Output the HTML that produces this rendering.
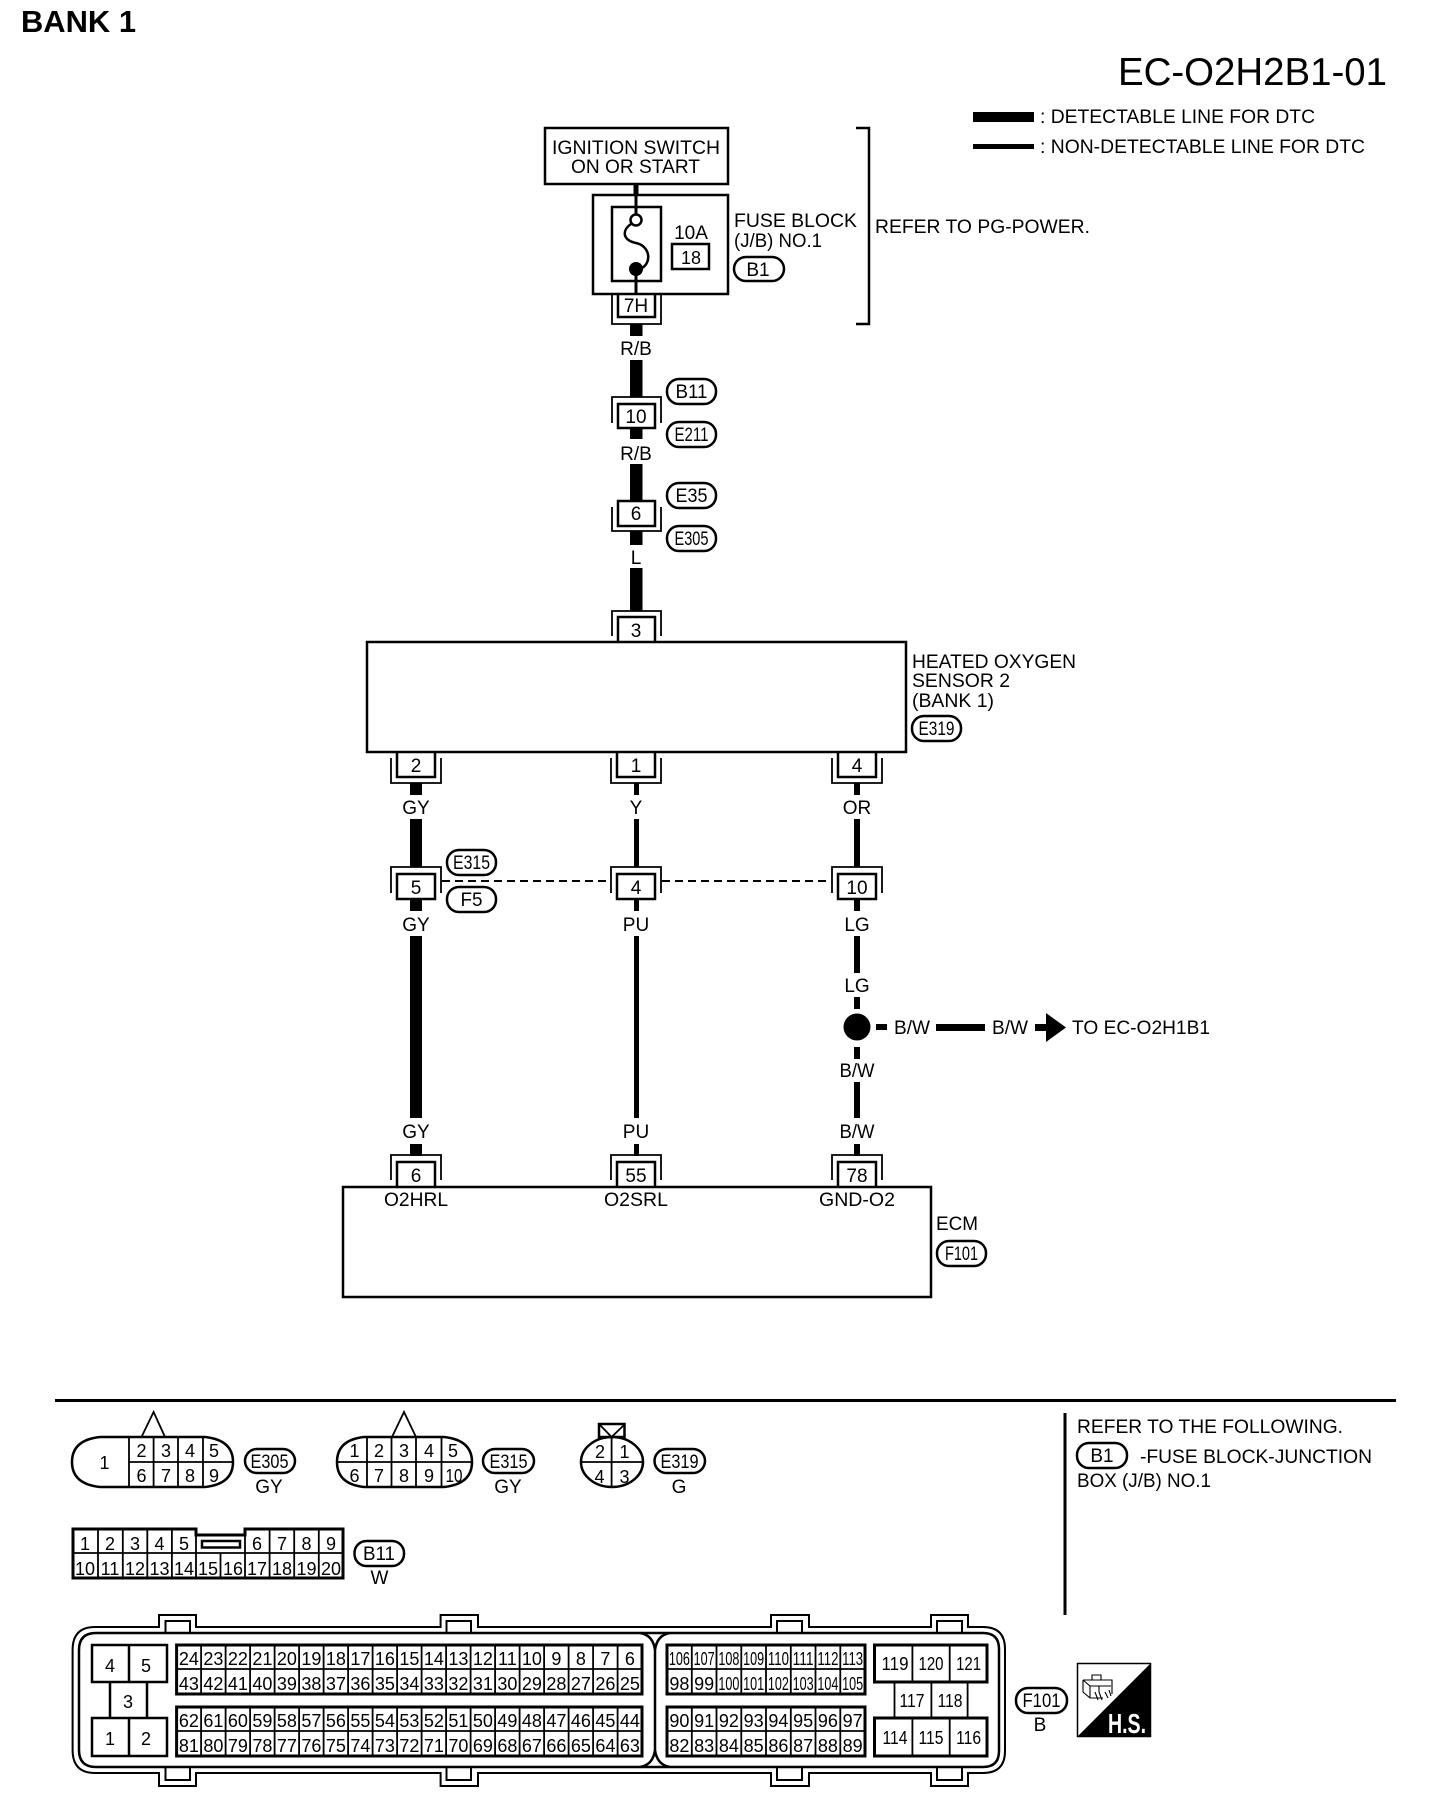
<!DOCTYPE html>
<html><head><meta charset="utf-8"><title>EC-O2H2B1-01</title>
<style>
html,body{margin:0;padding:0;background:#fff;width:1440px;height:1810px;overflow:hidden}
svg{display:block}
text{font-family:"Liberation Sans",sans-serif;font-size:19px;fill:#000}
.m{text-anchor:middle}
.n{font-size:18px;text-anchor:middle}
.b{fill:#fff;stroke:#000;stroke-width:2.5}
.o{fill:none;stroke:#000;stroke-width:2.5}
.t{fill:none;stroke:#000;stroke-width:1.8}
.k{fill:#000;stroke:none}
</style></head><body>
<svg width="1440" height="1810" viewBox="0 0 1440 1810" xmlns="http://www.w3.org/2000/svg">
<text x="21" y="32" font-weight="bold" style="font-size:31px" textLength="115" lengthAdjust="spacingAndGlyphs">BANK 1</text>
<text x="1118" y="85" style="font-size:39px" textLength="269" lengthAdjust="spacingAndGlyphs">EC-O2H2B1-01</text>
<rect class="k" x="973" y="112" width="61" height="10"/>
<rect class="k" x="973" y="144" width="61" height="5"/>
<text x="1040" y="123" textLength="275" lengthAdjust="spacingAndGlyphs">: DETECTABLE LINE FOR DTC</text>
<text x="1040" y="153" textLength="325" lengthAdjust="spacingAndGlyphs">: NON-DETECTABLE LINE FOR DTC</text>

<!-- top -->
<rect class="b" x="545" y="128" width="183" height="56"/>
<text x="552" y="154" textLength="168" lengthAdjust="spacingAndGlyphs">IGNITION SWITCH</text>
<text x="571" y="173" textLength="129" lengthAdjust="spacingAndGlyphs">ON OR START</text>
<rect class="k" x="633.5" y="184" width="5" height="11"/>
<rect class="b" x="593" y="195" width="135" height="99"/>
<rect class="b" x="612" y="207" width="49" height="74"/>
<rect class="k" x="634.5" y="195" width="3" height="19"/>
<rect class="k" x="634.5" y="270" width="3" height="24"/>
<path class="o" d="M631,224 C622,230 622,240 636,243 C650,246 652,262 642,268"/>
<circle cx="636" cy="220" r="5.5" fill="#fff" stroke="#000" stroke-width="2.5"/>
<circle class="k" cx="636" cy="269" r="7"/>
<text class="m" x="691" y="239">10A</text>
<rect class="b" x="672" y="244" width="37" height="25"/>
<text class="m" x="691" y="264" style="font-size:18px">18</text>
<text x="734" y="227" textLength="123" lengthAdjust="spacingAndGlyphs">FUSE BLOCK</text>
<text x="734" y="247" textLength="88" lengthAdjust="spacingAndGlyphs">(J/B) NO.1</text>
<rect class="b" x="734" y="257" width="50" height="24" rx="12"/>
<text class="m" x="758" y="276">B1</text>
<path class="o" d="M856,128 H869 V324 H856"/>
<text x="875" y="233" textLength="215" lengthAdjust="spacingAndGlyphs">REFER TO PG-POWER.</text>

<!-- 7H -->
<path class="o" d="M618,294 V317 H655 V294"/>
<path class="t" d="M612,294 V324 H661 V294"/>
<text class="m" x="636" y="312">7H</text>
<rect class="k" x="630" y="324" width="12.5" height="12"/>
<text class="m" x="636" y="355">R/B</text>
<rect class="k" x="630" y="360" width="12.5" height="37"/>
<!-- 10 -->
<path class="t" d="M612,423 V397 H661 V423"/>
<rect class="b" x="618" y="404" width="37" height="24"/>
<text class="m" x="636" y="423">10</text>
<rect class="k" x="630" y="428" width="12.5" height="11"/>
<text class="m" x="636" y="460">R/B</text>
<rect class="k" x="630" y="464" width="12.5" height="37"/>
<!-- 6 -->
<rect class="b" x="618" y="501" width="37" height="25"/>
<path class="t" d="M612,507 V531 H661 V507"/>
<text class="m" x="636" y="520">6</text>
<rect class="k" x="630" y="531" width="12.5" height="14"/>
<text class="m" x="636" y="564">L</text>
<rect class="k" x="630" y="568" width="12.5" height="43"/>
<!-- 3 -->
<path class="t" d="M612,636 V611 H661 V636"/>
<path class="o" d="M618,642 V617 H655 V642"/>
<text class="m" x="636" y="637">3</text>

<rect class="b" x="667" y="379" width="49" height="25" rx="12"/>
<text class="m" x="691.5" y="398" textLength="32" lengthAdjust="spacingAndGlyphs">B11</text>
<rect class="b" x="667" y="422" width="49" height="25" rx="12"/>
<text class="m" x="691.5" y="441" textLength="34" lengthAdjust="spacingAndGlyphs">E211</text>
<rect class="b" x="667" y="483" width="49" height="25" rx="12"/>
<text class="m" x="691.5" y="502" textLength="32" lengthAdjust="spacingAndGlyphs">E35</text>
<rect class="b" x="667" y="526" width="49" height="25" rx="12"/>
<text class="m" x="691.5" y="545" textLength="34" lengthAdjust="spacingAndGlyphs">E305</text>

<!-- sensor -->
<rect class="b" x="367" y="642" width="539" height="110"/>
<text x="912" y="668" textLength="164" lengthAdjust="spacingAndGlyphs">HEATED OXYGEN</text>
<text x="912" y="687" textLength="98" lengthAdjust="spacingAndGlyphs">SENSOR 2</text>
<text x="912" y="707" textLength="82" lengthAdjust="spacingAndGlyphs">(BANK 1)</text>
<rect class="b" x="912" y="716" width="49" height="25" rx="12"/>
<text class="m" x="936.5" y="735" textLength="36" lengthAdjust="spacingAndGlyphs">E319</text>

<path class="o" d="M397,752 V777 H435 V752"/><path class="t" d="M391,758 V783 H441 V758"/>
<path class="o" d="M617,752 V777 H655 V752"/><path class="t" d="M611,758 V783 H661 V758"/>
<path class="o" d="M838,752 V777 H876 V752"/><path class="t" d="M832,758 V783 H882 V758"/>
<text class="m" x="416" y="772">2</text><text class="m" x="636" y="772">1</text><text class="m" x="857" y="772">4</text>

<rect class="k" x="410" y="783" width="12" height="12"/>
<rect class="k" x="634" y="783" width="5" height="12"/>
<rect class="k" x="854" y="783" width="6" height="12"/>
<text class="m" x="416" y="814">GY</text><text class="m" x="636" y="814">Y</text><text class="m" x="857" y="814">OR</text>
<rect class="k" x="410" y="819" width="12" height="48"/>
<rect class="k" x="634" y="819" width="5" height="48"/>
<rect class="k" x="854" y="819" width="6" height="48"/>

<path class="t" d="M391,893 V867 H441 V893"/><rect class="b" x="397" y="874" width="38" height="25"/>
<path class="t" d="M611,893 V867 H661 V893"/><rect class="b" x="617" y="874" width="38" height="25"/>
<path class="t" d="M832,893 V867 H882 V893"/><rect class="b" x="838" y="874" width="38" height="25"/>
<text class="m" x="416" y="894">5</text><text class="m" x="636" y="894">4</text><text class="m" x="857" y="894">10</text>
<path d="M442,881 H607 M662,881 H826" stroke="#000" stroke-width="2" stroke-dasharray="8 5" fill="none"/>
<rect class="b" x="447" y="850" width="49" height="25" rx="12"/>
<text class="m" x="471.5" y="869" textLength="37" lengthAdjust="spacingAndGlyphs">E315</text>
<rect class="b" x="447" y="887" width="49" height="25" rx="12"/>
<text class="m" x="471.5" y="906" textLength="22" lengthAdjust="spacingAndGlyphs">F5</text>

<rect class="k" x="410" y="899" width="12" height="12"/>
<rect class="k" x="634" y="899" width="5" height="12"/>
<rect class="k" x="854" y="899" width="6" height="12"/>
<text class="m" x="416" y="931">GY</text><text class="m" x="636" y="931">PU</text><text class="m" x="857" y="931">LG</text>
<rect class="k" x="410" y="936" width="12" height="182"/>
<rect class="k" x="634" y="936" width="5" height="182"/>
<rect class="k" x="854" y="936" width="6" height="37"/>
<text class="m" x="857" y="992">LG</text>
<rect class="k" x="854" y="997" width="6" height="12"/>
<circle class="k" cx="857" cy="1027" r="13.5"/>
<rect class="k" x="876" y="1024" width="11" height="6"/>
<text x="894" y="1034" textLength="36" lengthAdjust="spacingAndGlyphs">B/W</text>
<rect class="k" x="936" y="1024" width="49" height="7"/>
<text x="992" y="1034" textLength="36" lengthAdjust="spacingAndGlyphs">B/W</text>
<rect class="k" x="1035" y="1024" width="11" height="7"/>
<polygon class="k" points="1046,1013 1066,1027.5 1046,1042"/>
<text x="1072" y="1034" textLength="138" lengthAdjust="spacingAndGlyphs">TO EC-O2H1B1</text>
<rect class="k" x="854" y="1047" width="6" height="12"/>
<text class="m" x="857" y="1077" textLength="35" lengthAdjust="spacingAndGlyphs">B/W</text>
<rect class="k" x="854" y="1082" width="6" height="36"/>
<text class="m" x="416" y="1138">GY</text><text class="m" x="636" y="1138">PU</text><text class="m" x="857" y="1138" textLength="35" lengthAdjust="spacingAndGlyphs">B/W</text>
<rect class="k" x="410" y="1144" width="12" height="12"/>
<rect class="k" x="634" y="1144" width="5" height="12"/>
<rect class="k" x="854" y="1144" width="6" height="12"/>

<path class="t" d="M391,1180 V1155 H441 V1180"/><path class="o" d="M397,1187 V1162 H435 V1187"/>
<path class="t" d="M611,1180 V1155 H661 V1180"/><path class="o" d="M617,1187 V1162 H655 V1187"/>
<path class="t" d="M832,1180 V1155 H882 V1180"/><path class="o" d="M838,1187 V1162 H876 V1187"/>
<text class="m" x="416" y="1182">6</text><text class="m" x="636" y="1182">55</text><text class="m" x="857" y="1182">78</text>
<rect class="b" x="343" y="1187" width="588" height="110"/>
<text class="m" x="416" y="1206" textLength="64" lengthAdjust="spacingAndGlyphs">O2HRL</text>
<text class="m" x="636" y="1206" textLength="64" lengthAdjust="spacingAndGlyphs">O2SRL</text>
<text class="m" x="857" y="1206" textLength="76" lengthAdjust="spacingAndGlyphs">GND-O2</text>
<text x="936" y="1230" textLength="42" lengthAdjust="spacingAndGlyphs">ECM</text>
<rect class="b" x="937" y="1241" width="49" height="25" rx="12"/>
<text class="m" x="961.5" y="1260" textLength="33" lengthAdjust="spacingAndGlyphs">F101</text>

<!-- separators -->
<rect class="k" x="55" y="1399" width="1341" height="3"/>
<rect class="k" x="1063.5" y="1413" width="3" height="202"/>
<text x="1077" y="1433" textLength="266" lengthAdjust="spacingAndGlyphs">REFER TO THE FOLLOWING.</text>
<rect class="b" x="1077" y="1443" width="50" height="25" rx="12"/>
<text class="m" x="1102" y="1462">B1</text>
<text x="1140" y="1463" textLength="232" lengthAdjust="spacingAndGlyphs">-FUSE BLOCK-JUNCTION</text>
<text x="1077" y="1487" textLength="134" lengthAdjust="spacingAndGlyphs">BOX (J/B) NO.1</text>

<!-- E305 -->
<path class="t" d="M141.5,1437 L153.6,1412 L165,1437"/>
<path class="o" d="M100,1437 H205 Q233,1440 233,1462 Q233,1484 205,1487 H100 Q72,1484 72,1462 Q72,1440 100,1437 Z"/>
<path class="t" d="M129,1437 V1487 M153.6,1437 V1487 M178,1437 V1487 M203,1437 V1487 M129,1462 H233"/>
<text class="n" x="104.5" y="1469">1</text>
<text class="n" x="141.5" y="1457">2</text><text class="n" x="166" y="1457">3</text><text class="n" x="190" y="1457">4</text><text class="n" x="214" y="1457">5</text>
<text class="n" x="141.5" y="1482">6</text><text class="n" x="166" y="1482">7</text><text class="n" x="190" y="1482">8</text><text class="n" x="214" y="1482">9</text>
<rect class="b" x="245" y="1449" width="50" height="24" rx="12"/>
<text class="m" x="269.5" y="1468" textLength="38" lengthAdjust="spacingAndGlyphs">E305</text>
<text class="m" x="269" y="1493">GY</text>

<!-- E315 -->
<path class="t" d="M392,1437 L404,1412 L416,1437"/>
<path class="o" d="M364,1437 H444 Q472,1440 472,1462 Q472,1484 444,1487 H364 Q337,1484 337,1462 Q337,1440 364,1437 Z"/>
<path class="t" d="M367,1437 V1487 M391.5,1437 V1487 M416,1437 V1487 M441.5,1437 V1487 M337,1462 H472"/>
<text class="n" x="354.5" y="1457">1</text><text class="n" x="379" y="1457">2</text><text class="n" x="404" y="1457">3</text><text class="n" x="429" y="1457">4</text><text class="n" x="453" y="1457">5</text>
<text class="n" x="354.5" y="1482">6</text><text class="n" x="379" y="1482">7</text><text class="n" x="404" y="1482">8</text><text class="n" x="429" y="1482">9</text><text class="n" x="454" y="1482" textLength="17" lengthAdjust="spacingAndGlyphs">10</text>
<rect class="b" x="483" y="1449" width="51" height="24" rx="12"/>
<text class="m" x="508.5" y="1468" textLength="38" lengthAdjust="spacingAndGlyphs">E315</text>
<text class="m" x="508" y="1493">GY</text>

<!-- E319 -->
<ellipse class="o" cx="612" cy="1462" rx="31" ry="25"/>
<path class="t" d="M611.6,1437 V1487 M581,1462 H644"/>
<rect class="o" x="599" y="1424" width="25.5" height="13"/>
<path class="t" d="M600,1425 L611.6,1437 L624,1425"/>
<text class="n" x="600" y="1458">2</text><text class="n" x="624.5" y="1458">1</text><text class="n" x="599.5" y="1483">4</text><text class="n" x="624.5" y="1483">3</text>
<rect class="b" x="654.5" y="1449" width="50.5" height="24" rx="12"/>
<text class="m" x="679.5" y="1468" textLength="38" lengthAdjust="spacingAndGlyphs">E319</text>
<text class="m" x="679" y="1493">G</text>

<!-- B11 connector -->
<path class="o" style="stroke-width:3" d="M73,1529 H196 V1535 H245 V1529 H343 V1578 H73 Z"/>
<path class="t" d="M73,1553 H343 M98,1529 V1578 M122.8,1529 V1578 M147.3,1529 V1578 M171.9,1529 V1578 M196,1529 V1578 M220.5,1553 V1578 M245,1529 V1578 M269.6,1529 V1578 M294.2,1529 V1578 M318.8,1529 V1578"/>
<rect x="202" y="1541" width="38" height="6.5" fill="#fff" stroke="#000" stroke-width="2.5"/>
<text class="n" x="85" y="1550">1</text><text class="n" x="110" y="1550">2</text><text class="n" x="135" y="1550">3</text><text class="n" x="159.5" y="1550">4</text><text class="n" x="184" y="1550">5</text><text class="n" x="257" y="1550">6</text><text class="n" x="282" y="1550">7</text><text class="n" x="306.5" y="1550">8</text><text class="n" x="331" y="1550">9</text>
<text class="n" x="85" y="1575">10</text><text class="n" x="110" y="1575">11</text><text class="n" x="135" y="1575">12</text><text class="n" x="159.5" y="1575">13</text><text class="n" x="184" y="1575">14</text><text class="n" x="208" y="1575">15</text><text class="n" x="233" y="1575">16</text><text class="n" x="257" y="1575">17</text><text class="n" x="282" y="1575">18</text><text class="n" x="306.5" y="1575">19</text><text class="n" x="331" y="1575">20</text>
<rect class="b" x="354.5" y="1541" width="49.5" height="25" rx="12"/>
<text class="m" x="379" y="1560" textLength="32" lengthAdjust="spacingAndGlyphs">B11</text>
<text class="m" x="379.5" y="1584">W</text>

<!-- ECM connector -->
<path fill="none" stroke="#000" stroke-width="2" d="M95,1627 H159 V1615 H196 V1627 H440.6 V1615 H478 V1627 H771 V1615 H809 V1627 H931 V1615 H968 V1627 H983 Q1005,1627 1005,1649 V1751 Q1005,1773 983,1773 H968 V1786 H931 V1773 H809 V1786 H771 V1773 H478 V1786 H440.6 V1773 H196 V1786 H159 V1773 H95 Q72.6,1773 72.6,1750 V1650 Q72.6,1627 95,1627 Z"/>
<path class="o" d="M96,1633 H983 Q999,1633 999,1649 V1751 Q999,1767 983,1767 H96 Q79,1767 79,1750 V1650 Q79,1633 96,1633 Z"/>
<path class="o" d="M640,1633 Q653,1635 655,1650 Q657,1635 670,1633 M655,1650 V1750 M640,1767 Q653,1765 655,1750 Q657,1765 670,1767"/>
<path fill="none" stroke="#000" stroke-width="2" d="M165.5,1633 V1621 H190 V1633 M446.5,1633 V1621 H471 V1633 M777,1633 V1621 H802 V1633 M937,1633 V1621 H962 V1633"/>
<path fill="none" stroke="#000" stroke-width="2" d="M165.5,1767 V1780 H190 V1767 M446.5,1767 V1780 H471 V1767 M777,1767 V1780 H802 V1767 M937,1767 V1780 H962 V1767"/>

<!-- left relay -->
<path class="o" d="M92,1645 H167 V1682 H92 Z M129,1645 V1682 M110,1682 V1718 M147,1682 V1718 M92,1718 H167 V1756 H92 Z M129,1718 V1756"/>
<text class="n" x="110" y="1672">4</text><text class="n" x="146" y="1672">5</text><text class="n" x="128" y="1708">3</text><text class="n" x="110" y="1745">1</text><text class="n" x="146" y="1745">2</text>

<!-- grids 1/2 -->
<rect class="o" style="stroke-width:3" x="176.6" y="1645" width="465.4" height="49"/>
<rect class="o" style="stroke-width:3" x="176.6" y="1707" width="465.4" height="49"/>
<path class="t" d="M176.6,1669 H642 M176.6,1731 H642 M201.1,1645 V1694 M225.6,1645 V1694 M250.1,1645 V1694 M274.6,1645 V1694 M299.1,1645 V1694 M323.6,1645 V1694 M348.1,1645 V1694 M372.6,1645 V1694 M397.1,1645 V1694 M421.6,1645 V1694 M446.1,1645 V1694 M470.6,1645 V1694 M495.1,1645 V1694 M519.6,1645 V1694 M544.1,1645 V1694 M568.6,1645 V1694 M593.1,1645 V1694 M617.6,1645 V1694 M201.1,1707 V1756 M225.6,1707 V1756 M250.1,1707 V1756 M274.6,1707 V1756 M299.1,1707 V1756 M323.6,1707 V1756 M348.1,1707 V1756 M372.6,1707 V1756 M397.1,1707 V1756 M421.6,1707 V1756 M446.1,1707 V1756 M470.6,1707 V1756 M495.1,1707 V1756 M519.6,1707 V1756 M544.1,1707 V1756 M568.6,1707 V1756 M593.1,1707 V1756 M617.6,1707 V1756"/>
<text class="n" x="188.9" y="1665">24</text><text class="n" x="213.4" y="1665">23</text><text class="n" x="237.9" y="1665">22</text><text class="n" x="262.4" y="1665">21</text><text class="n" x="286.9" y="1665">20</text><text class="n" x="311.4" y="1665">19</text><text class="n" x="335.9" y="1665">18</text><text class="n" x="360.4" y="1665">17</text><text class="n" x="384.9" y="1665">16</text><text class="n" x="409.4" y="1665">15</text><text class="n" x="433.9" y="1665">14</text><text class="n" x="458.4" y="1665">13</text><text class="n" x="482.9" y="1665">12</text><text class="n" x="507.4" y="1665">11</text><text class="n" x="531.9" y="1665">10</text><text class="n" x="556.4" y="1665">9</text><text class="n" x="580.9" y="1665">8</text><text class="n" x="605.4" y="1665">7</text><text class="n" x="629.9" y="1665">6</text>
<text class="n" x="188.9" y="1690">43</text><text class="n" x="213.4" y="1690">42</text><text class="n" x="237.9" y="1690">41</text><text class="n" x="262.4" y="1690">40</text><text class="n" x="286.9" y="1690">39</text><text class="n" x="311.4" y="1690">38</text><text class="n" x="335.9" y="1690">37</text><text class="n" x="360.4" y="1690">36</text><text class="n" x="384.9" y="1690">35</text><text class="n" x="409.4" y="1690">34</text><text class="n" x="433.9" y="1690">33</text><text class="n" x="458.4" y="1690">32</text><text class="n" x="482.9" y="1690">31</text><text class="n" x="507.4" y="1690">30</text><text class="n" x="531.9" y="1690">29</text><text class="n" x="556.4" y="1690">28</text><text class="n" x="580.9" y="1690">27</text><text class="n" x="605.4" y="1690">26</text><text class="n" x="629.9" y="1690">25</text>
<text class="n" x="188.9" y="1727">62</text><text class="n" x="213.4" y="1727">61</text><text class="n" x="237.9" y="1727">60</text><text class="n" x="262.4" y="1727">59</text><text class="n" x="286.9" y="1727">58</text><text class="n" x="311.4" y="1727">57</text><text class="n" x="335.9" y="1727">56</text><text class="n" x="360.4" y="1727">55</text><text class="n" x="384.9" y="1727">54</text><text class="n" x="409.4" y="1727">53</text><text class="n" x="433.9" y="1727">52</text><text class="n" x="458.4" y="1727">51</text><text class="n" x="482.9" y="1727">50</text><text class="n" x="507.4" y="1727">49</text><text class="n" x="531.9" y="1727">48</text><text class="n" x="556.4" y="1727">47</text><text class="n" x="580.9" y="1727">46</text><text class="n" x="605.4" y="1727">45</text><text class="n" x="629.9" y="1727">44</text>
<text class="n" x="188.9" y="1752">81</text><text class="n" x="213.4" y="1752">80</text><text class="n" x="237.9" y="1752">79</text><text class="n" x="262.4" y="1752">78</text><text class="n" x="286.9" y="1752">77</text><text class="n" x="311.4" y="1752">76</text><text class="n" x="335.9" y="1752">75</text><text class="n" x="360.4" y="1752">74</text><text class="n" x="384.9" y="1752">73</text><text class="n" x="409.4" y="1752">72</text><text class="n" x="433.9" y="1752">71</text><text class="n" x="458.4" y="1752">70</text><text class="n" x="482.9" y="1752">69</text><text class="n" x="507.4" y="1752">68</text><text class="n" x="531.9" y="1752">67</text><text class="n" x="556.4" y="1752">66</text><text class="n" x="580.9" y="1752">65</text><text class="n" x="605.4" y="1752">64</text><text class="n" x="629.9" y="1752">63</text>

<!-- grids 3/4 -->
<rect class="o" style="stroke-width:3" x="667" y="1645" width="198" height="49"/>
<rect class="o" style="stroke-width:3" x="667" y="1707" width="198" height="49"/>
<path class="t" d="M667,1669 H865 M667,1731 H865 M691.8,1645 V1694 M716.5,1645 V1694 M741.3,1645 V1694 M766,1645 V1694 M790.8,1645 V1694 M815.5,1645 V1694 M840.3,1645 V1694 M691.8,1707 V1756 M716.5,1707 V1756 M741.3,1707 V1756 M766,1707 V1756 M790.8,1707 V1756 M815.5,1707 V1756 M840.3,1707 V1756"/>
<text class="n" x="679.4" y="1665" textLength="21" lengthAdjust="spacingAndGlyphs">106</text><text class="n" x="704.1" y="1665" textLength="21" lengthAdjust="spacingAndGlyphs">107</text><text class="n" x="728.9" y="1665" textLength="21" lengthAdjust="spacingAndGlyphs">108</text><text class="n" x="753.6" y="1665" textLength="21" lengthAdjust="spacingAndGlyphs">109</text><text class="n" x="778.4" y="1665" textLength="21" lengthAdjust="spacingAndGlyphs">110</text><text class="n" x="803.1" y="1665" textLength="21" lengthAdjust="spacingAndGlyphs">111</text><text class="n" x="827.9" y="1665" textLength="21" lengthAdjust="spacingAndGlyphs">112</text><text class="n" x="852.6" y="1665" textLength="21" lengthAdjust="spacingAndGlyphs">113</text>
<text class="n" x="679.4" y="1690">98</text><text class="n" x="704.1" y="1690">99</text><text class="n" x="728.9" y="1690" textLength="21" lengthAdjust="spacingAndGlyphs">100</text><text class="n" x="753.6" y="1690" textLength="21" lengthAdjust="spacingAndGlyphs">101</text><text class="n" x="778.4" y="1690" textLength="21" lengthAdjust="spacingAndGlyphs">102</text><text class="n" x="803.1" y="1690" textLength="21" lengthAdjust="spacingAndGlyphs">103</text><text class="n" x="827.9" y="1690" textLength="21" lengthAdjust="spacingAndGlyphs">104</text><text class="n" x="852.6" y="1690" textLength="21" lengthAdjust="spacingAndGlyphs">105</text>
<text class="n" x="679.4" y="1727">90</text><text class="n" x="704.1" y="1727">91</text><text class="n" x="728.9" y="1727">92</text><text class="n" x="753.6" y="1727">93</text><text class="n" x="778.4" y="1727">94</text><text class="n" x="803.1" y="1727">95</text><text class="n" x="827.9" y="1727">96</text><text class="n" x="852.6" y="1727">97</text>
<text class="n" x="679.4" y="1752">82</text><text class="n" x="704.1" y="1752">83</text><text class="n" x="728.9" y="1752">84</text><text class="n" x="753.6" y="1752">85</text><text class="n" x="778.4" y="1752">86</text><text class="n" x="803.1" y="1752">87</text><text class="n" x="827.9" y="1752">88</text><text class="n" x="852.6" y="1752">89</text>

<!-- right relay -->
<path class="o" style="stroke-width:3" d="M874.5,1645 H987 V1682 H874.5 Z M874.5,1718 H987 V1756 H874.5 Z"/>
<path class="t" d="M912.4,1645 V1682 M949.7,1645 V1682 M912.4,1718 V1756 M949.7,1718 V1756 M894.5,1682 V1718 M931.4,1682 V1718 M967.6,1682 V1718"/>
<text class="n" x="895" y="1670" textLength="27" lengthAdjust="spacingAndGlyphs">119</text><text class="n" x="931" y="1670" textLength="25" lengthAdjust="spacingAndGlyphs">120</text><text class="n" x="968.6" y="1670" textLength="25" lengthAdjust="spacingAndGlyphs">121</text>
<text class="n" x="912" y="1707" textLength="25" lengthAdjust="spacingAndGlyphs">117</text><text class="n" x="950" y="1707" textLength="25" lengthAdjust="spacingAndGlyphs">118</text>
<text class="n" x="895" y="1744" textLength="25" lengthAdjust="spacingAndGlyphs">114</text><text class="n" x="931" y="1744" textLength="25" lengthAdjust="spacingAndGlyphs">115</text><text class="n" x="968.6" y="1744" textLength="25" lengthAdjust="spacingAndGlyphs">116</text>

<rect class="b" x="1014" y="1688" width="51" height="25" rx="12" transform="translate(2,0)"/>
<text class="m" x="1041.5" y="1707" textLength="38" lengthAdjust="spacingAndGlyphs">F101</text>
<text class="m" x="1040" y="1731">B</text>

<!-- H.S. -->
<rect x="1077.5" y="1663.5" width="73" height="73" fill="#fff" stroke="#000" stroke-width="1.5"/>
<polygon class="k" points="1151,1663 1151,1737 1077,1737"/>
<text x="1108" y="1733" font-weight="bold" style="font-size:28px;fill:#fff" textLength="38" lengthAdjust="spacingAndGlyphs">H.S.</text>
<path fill="none" stroke="#000" stroke-width="1.1" d="M1083,1680 H1112 V1694 M1083,1680 V1692 L1090,1698 H1103 M1090,1686 V1698 M1083,1680 L1090,1686 H1111 M1092,1680 V1675 H1101 V1680 M1099,1686 V1692 M1095,1692 L1098,1700 M1099,1692 L1102,1700 M1105,1692 L1108,1698 M1109,1690 L1111,1696"/>
</svg>
</body></html>
